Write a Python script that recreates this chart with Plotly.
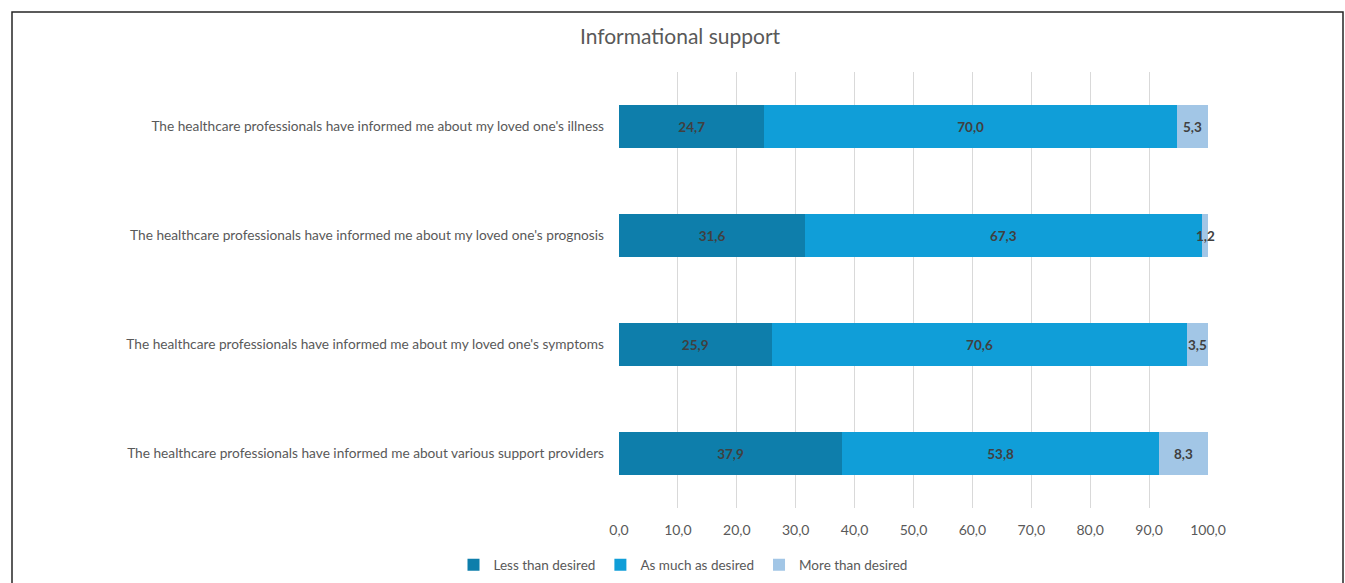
import plotly.graph_objects as go

categories = [
    "The healthcare professionals have informed me about my loved one's illness",
    "The healthcare professionals have informed me about my loved one's prognosis",
    "The healthcare professionals have informed me about my loved one's symptoms",
    "The healthcare professionals have informed me about various support providers",
]
less_than = [24.7, 31.6, 25.9, 37.9]
as_much = [70.0, 67.3, 70.6, 53.8]
more_than = [5.3, 1.2, 3.5, 8.3]
series_names = ["Less than desired", "As much as desired", "More than desired"]
colors = ["#0E7EAB", "#109ED8", "#A2C6E6"]
tick_vals = [0, 10, 20, 30, 40, 50, 60, 70, 80, 90, 100]

W, H = 1345, 583
L, R, T, B = 619, 137, 72, 75
pw, ph = W - L - R, H - T - B

label_font = dict(family="Lato", size=13.5, color="#404040", weight="bold")

def fmt(v):
    return f"{v:.1f}".replace(".", ",")

fig = go.Figure()
all_series = [less_than, as_much, more_than]
for i, (name, vals, col) in enumerate(zip(series_names, all_series, colors)):
    fig.add_trace(go.Bar(
        y=categories, x=vals, name=name, orientation="h",
        marker=dict(color=col, line=dict(width=0)),
        text=[fmt(v) for v in vals] if i < 2 else None,
        textposition="inside" if i < 2 else "none",
        insidetextanchor="middle",
        constraintext="none", textangle=0, cliponaxis=False,
        textfont=label_font,
        hoverinfo="skip",
    ))

# labels of the last (narrow) segment, centred on the segment
mid_last = [a + b + c / 2 for a, b, c in zip(less_than, as_much, more_than)]
annotations = [
    dict(x=m, y=cat, xref="x", yref="y", text=fmt(v), showarrow=False,
         xanchor="center", yanchor="middle", font=label_font)
    for m, cat, v in zip(mid_last, categories, more_than)
]

def px_x(p):
    return (p - L) / pw

def px_y(p):
    return (H - B - p) / ph

fig.update_layout(
    width=W, height=H,
    barmode="stack", bargap=0.6,
    separators=", ",
    annotations=annotations,
    paper_bgcolor="white", plot_bgcolor="white",
    margin=dict(l=L, r=R, t=T, b=B, autoexpand=False),
    font=dict(family="Lato", color="#595959", size=13.5),
    title=dict(text="Informational support", x=680 / W, xanchor="center",
               y=1 - 37 / H, yanchor="middle",
               font=dict(family="Lato", size=21, color="#595959")),
    xaxis=dict(range=[0, 100], tickvals=tick_vals, tickformat=".1f",
               showgrid=True, gridcolor="#D9D9D9", gridwidth=1,
               zeroline=False, showline=False, ticks="",
               ticklabelstandoff=12, automargin=False,
               tickfont=dict(size=14, color="#595959"), fixedrange=True),
    yaxis=dict(autorange="reversed", showgrid=False, ticks="", showline=False,
               ticklabelstandoff=14, automargin=False,
               tickfont=dict(size=13.7, color="#595959"), fixedrange=True),
    legend=dict(orientation="h", x=px_x(683), xanchor="center",
                y=px_y(565), yanchor="middle", bgcolor="rgba(0,0,0,0)",
                font=dict(size=13.5, color="#595959"),
                traceorder="normal", itemwidth=30),
    showlegend=True,
    shapes=[dict(type="rect", xref="paper", yref="paper",
                 x0=px_x(12), x1=px_x(1343), y0=px_y(600), y1=px_y(12),
                 line=dict(color="#262626", width=1.5), layer="below")],
)

fig.write_html("out.html", config={"displayModeBar": False},
               post_script="document.body.style.margin='0';")
